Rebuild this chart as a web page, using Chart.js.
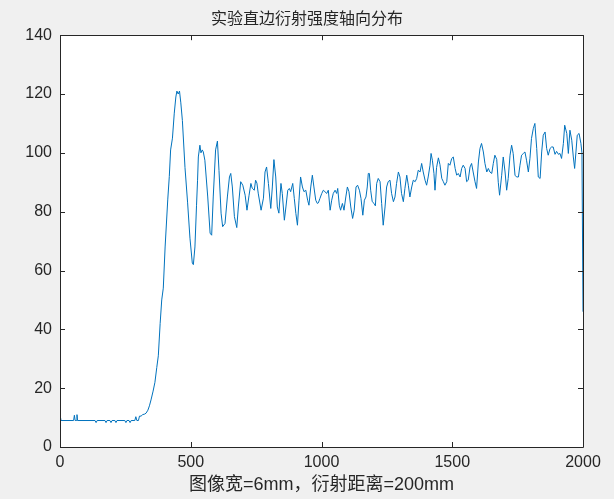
<!DOCTYPE html>
<html>
<head>
<meta charset="utf-8">
<script src="https://cdn.jsdelivr.net/npm/chart.js@4"></script>
<style>
html,body{margin:0;padding:0;background:#f0f0f0;}
#wrap{width:614px;height:499px;position:relative;}
</style>
</head>
<body>
<div id="wrap"><canvas id="c" width="614" height="499"></canvas></div>
<script>
const titleText = '实验直边衍射强度轴向分布';
const xLabelText = '图像宽=6mm，衍射距离=200mm';
const xTicks = [0, 500, 1000, 1500, 2000];
const yTicks = [0, 20, 40, 60, 80, 100, 120, 140];
const xs = [0,2,4,52,55,58,63,65,67,134,138,142,172,176,180,191,195,199,210,214,218,248,252,256,264,268,272,286,290,294,300,304,310,316,324,329,336,342,348,356,363,370,376,383,389,395,402,412,418,423,430,437,443,447,452,457,462,468,478,488,497,506,510,516,522,526,529,535,539,544,548,554,565,574,580,586,595,602,608,616,622,631,640,648,653,659,667,676,682,691,699,708,715,723,730,735,743,748,753,758,769,778,784,790,797,806,812,818,825,831,837,845,850,858,864,871,877,882,890,896,902,908,914,920,927,933,940,947,952,959,965,971,978,984,988,994,1001,1007,1013,1020,1026,1033,1039,1045,1052,1058,1062,1068,1073,1080,1086,1093,1099,1105,1112,1119,1125,1132,1138,1145,1151,1158,1164,1170,1175,1179,1183,1188,1194,1201,1206,1211,1217,1224,1230,1236,1243,1249,1255,1262,1268,1275,1281,1287,1294,1300,1306,1313,1319,1326,1332,1338,1345,1351,1358,1364,1370,1377,1383,1389,1396,1402,1408,1415,1419,1424,1430,1434,1440,1447,1453,1460,1466,1472,1479,1485,1491,1498,1504,1511,1517,1523,1530,1536,1542,1549,1555,1561,1568,1574,1580,1587,1593,1600,1606,1612,1619,1625,1632,1638,1644,1651,1657,1663,1670,1676,1681,1689,1695,1702,1708,1714,1721,1727,1733,1740,1746,1753,1759,1765,1772,1778,1784,1791,1797,1803,1810,1816,1823,1829,1836,1842,1848,1855,1861,1867,1874,1880,1886,1893,1899,1906,1912,1918,1925,1930,1938,1944,1950,1957,1963,1968,1973,1978,1985,1992,1996,2000];
const intensity = [11,11,9,9,10.8,9,9,11,9,9,8.3,9,9,8.3,9,9,8.3,9,9,8.3,9,9,8.3,9,9,8.3,9,9,10.3,9,9,10.5,10.5,11,11.2,11.5,12.5,14,16,19,22,27,31,42,50,54,68,84,92,101,105,113.5,119,121,120,121,117,111,95,83,71,62.5,62,68,82,90.7,98.6,102.6,100,101,100.3,97.5,85,72.7,72,85,101,104,94,79.5,74.9,76,85,91.8,93,88.4,78.3,74.6,81.6,90.2,89,85.6,80.5,85.6,89.6,88,87.3,90.7,89.7,86.3,80.5,84.6,93.5,95.2,89.6,81.1,88.4,97.7,91.8,81.6,79.5,89.6,86.2,77.1,81.6,87.3,87.9,86.8,89.6,84.5,79.4,75.4,83.9,91.8,88.4,86.8,87.3,83.9,82.2,88.4,92.4,88.4,83.9,82.8,83,84.5,86.2,87.3,86.8,86.2,87.3,80.5,83.9,86.2,87.3,86.2,87.9,82.2,80.5,82.8,80.5,85,88.4,86.8,81.6,77.7,80.5,88.4,89,87.3,84.5,78.8,83.9,85,88.4,93,93,87.3,83.4,82.8,82,89.6,91.3,90.2,82.8,75.4,81.6,88.4,90.2,90.7,86.2,83.4,85,89.6,93.5,91.8,86.2,83.4,87.9,92.4,89,85,88.4,90.7,90.2,91.3,94.1,93.5,96.4,93.5,90.7,89,91.8,95.8,99.8,97.5,93,87.3,95,98.3,96,91.3,90.2,89,90.2,96.4,95.8,98.1,98.6,94.7,92.4,93,91.8,94.7,95.8,94.7,90.2,90.7,95.2,96.4,93.5,90.2,87.9,96.9,101.5,103.2,100.3,96.4,93.5,94.7,93.5,93,96.4,99.2,97.8,90,85.6,92.4,98.6,93.5,87.3,91.3,99.2,102.6,99.8,92.4,91.8,91.8,95.8,99.2,99.8,100.3,97.5,93.5,98,104.9,108.3,110,101.5,91.8,91.3,100.3,106,107.1,101.5,99.2,101.5,102,102,99.5,100.5,99.5,99.8,98.1,103.2,109.4,106.6,99.8,107.7,104.3,98.6,94.7,100.3,106,106.6,103.2,100,46];

const points = xs.map((x, i) => ({x: x, y: intensity[i]}));
const axisColor = '#262626';
const tickFont = {family: '"Liberation Sans", Arial, sans-serif', size: 16};

const boxPlugin = {
  id: 'matlabBox',
  afterDraw(chart) {
    const {ctx, chartArea: a, scales} = chart;
    ctx.save();
    ctx.strokeStyle = axisColor;
    ctx.lineWidth = 1;
    ctx.beginPath();
    ctx.rect(Math.round(a.left) + 0.5, Math.round(a.top) + 0.5, Math.round(a.right - a.left), Math.round(a.bottom - a.top));
    ctx.stroke();
    const tl = 5;
    ctx.beginPath();
    xTicks.forEach(v => {
      const px = Math.round(scales.x.getPixelForValue(v)) + 0.5;
      ctx.moveTo(px, a.bottom); ctx.lineTo(px, a.bottom - tl);
      ctx.moveTo(px, a.top); ctx.lineTo(px, a.top + tl);
    });
    yTicks.forEach(v => {
      const py = Math.round(scales.y.getPixelForValue(v)) + 0.5;
      ctx.moveTo(a.left, py); ctx.lineTo(a.left + tl, py);
      ctx.moveTo(a.right, py); ctx.lineTo(a.right - tl, py);
    });
    ctx.stroke();
    ctx.restore();
  }
};

const bgPlugin = {
  id: 'bg',
  beforeDraw(chart) {
    const {ctx, chartArea: a} = chart;
    ctx.save();
    ctx.fillStyle = '#f0f0f0';
    ctx.fillRect(0, 0, chart.width, chart.height);
    ctx.fillStyle = '#ffffff';
    ctx.fillRect(a.left, a.top, a.right - a.left, a.bottom - a.top);
    ctx.restore();
  }
};

new Chart(document.getElementById('c'), {
  type: 'line',
  data: {
    datasets: [{
      data: points,
      borderColor: '#0072BD',
      borderWidth: 1,
      pointRadius: 0,
      tension: 0,
      fill: false
    }]
  },
  options: {
    responsive: false,
    animation: false,
    layout: {padding: {left: 0, right: 0, top: 0, bottom: 0}},
    plugins: {
      legend: {display: false},
      tooltip: {enabled: false},
      title: {
        display: true,
        text: titleText,
        color: axisColor,
        font: {family: '"Noto Sans CJK SC", sans-serif', size: 16, weight: 'normal', lineHeight: 1.2},
        padding: {top: 8, bottom: 8}
      }
    },
    scales: {
      x: {
        type: 'linear',
        min: 0, max: 2000,
        afterBuildTicks: s => { s.ticks = xTicks.map(v => ({value: v})); },
        afterFit: s => { s.height = 52; },
        grid: {display: false, drawTicks: false},
        border: {display: false},
        ticks: {color: axisColor, font: tickFont, padding: 6, maxRotation: 0, callback: v => String(v)},
        title: {
          display: true,
          text: xLabelText,
          color: axisColor,
          font: {family: '"Liberation Sans", "Noto Sans CJK SC", sans-serif', size: 18, lineHeight: 1.2},
          padding: {top: 0, bottom: 3}
        }
      },
      y: {
        type: 'linear',
        min: 0, max: 140,
        afterBuildTicks: s => { s.ticks = yTicks.map(v => ({value: v})); },
        afterFit: s => { s.width = 60; },
        grid: {display: false, drawTicks: false},
        border: {display: false},
        ticks: {color: axisColor, font: tickFont, padding: 8, callback: v => String(v)}
      },
      yRight: {
        type: 'linear',
        position: 'right',
        min: 0, max: 140,
        afterFit: s => { s.width = 31; },
        grid: {display: false, drawTicks: false},
        border: {display: false},
        ticks: {display: false}
      }
    }
  },
  plugins: [bgPlugin, boxPlugin]
});
</script>
</body>
</html>
